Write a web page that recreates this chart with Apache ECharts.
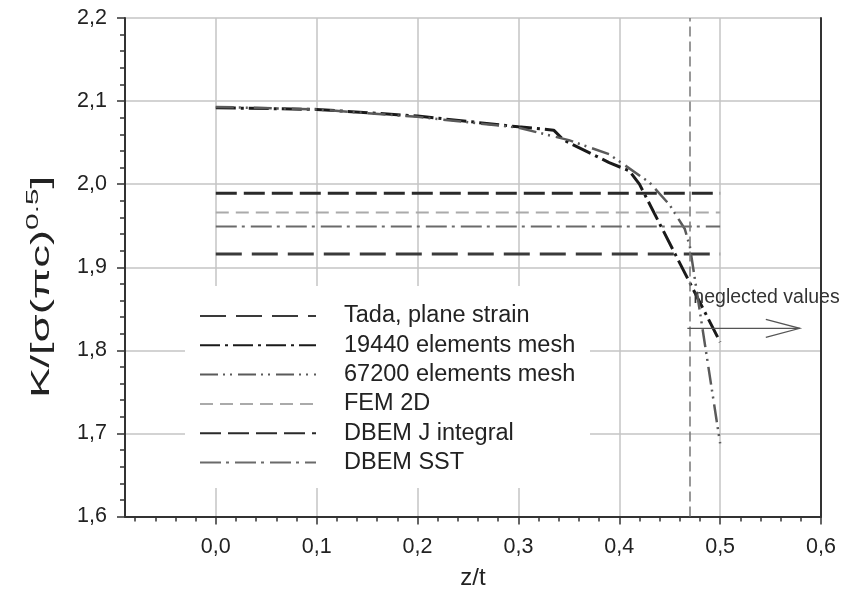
<!DOCTYPE html>
<html>
<head>
<meta charset="utf-8">
<script src="https://cdn.jsdelivr.net/npm/echarts@6/dist/echarts.min.js"></script>
<style>
  html, body { margin: 0; padding: 0; background: #fff; }
  #chart { width: 843px; height: 599px; }
</style>
</head>
<body>
<div id="chart"></div>
<script>
// tick labels
const xMajor = [0, 0.1, 0.2, 0.3, 0.4, 0.5, 0.6];
const yMajor = [1.6, 1.7, 1.8, 1.9, 2.0, 2.1, 2.2];

// 19440 elements mesh
const mesh19440Z = [0, 0.1, 0.2, 0.3, 0.335, 0.345, 0.39, 0.41, 0.42, 0.5];
const mesh19440K = [2.092, 2.090, 2.082, 2.069, 2.065, 2.053, 2.026, 2.016, 2.000, 1.810];
// 67200 elements mesh
const mesh67200Z = [0, 0.1, 0.2, 0.3, 0.35, 0.39, 0.43, 0.45, 0.465, 0.47, 0.5];
const mesh67200K = [2.093, 2.090, 2.081, 2.068, 2.053, 2.036, 2.002, 1.975, 1.946, 1.925, 1.688];

// constant reference values, drawn from z/t = 0 to 0.5
const levelZ = [0, 0.5];
const tadaK = 1.916;
const fem2dK = 1.966;
const dbemJK = 1.989;
const dbemSstK = 1.949;

// neglected values marker
const neglectZ = 0.4675;
const arrowK = 1.8265;
const arrowEndZ = 0.579;

const FONT = '"Liberation Sans", Arial, sans-serif';

// minor tick positions every 0.02 (skip majors)
const xMinor = [];
for (let i = -4; i <= 30; i++) {
    if (i % 5 !== 0) xMinor.push(+(i * 0.02).toFixed(2));
}

const pairs = (xs, ys) => xs.map((x, i) => [x, ys[i]]);
const level = (k) => levelZ.map(z => [z, k]);
const comma = (v) => v.toFixed(1).replace('.', ',');

const chart = echarts.init(document.getElementById('chart'));

const lineSeries = (name, data, color, width, type, extra) => Object.assign({
    name,
    type: 'line',
    xAxisIndex: 0,
    yAxisIndex: 0,
    data,
    symbol: 'none',
    showSymbol: false,
    animation: false,
    lineStyle: { color, width, type },
    itemStyle: { color },
    z: 3
}, extra || {});

chart.setOption({
    animation: false,
    backgroundColor: '#fff',
    textStyle: { fontFamily: FONT },
    grid: { left: 125, right: 22, top: 18, bottom: 82.5 },
    legend: {
        orient: 'vertical',
        left: 199,
        top: 304,
        padding: 0,
        itemWidth: 116,
        itemHeight: 14,
        itemGap: 5.3,
        selectedMode: false,
        itemStyle: { opacity: 0 },
        textStyle: { fontSize: 23.5, lineHeight: 23, color: '#222', fontFamily: FONT, padding: [0, 0, 0, 23] },
        data: ['Tada, plane strain', '19440 elements mesh', '67200 elements mesh', 'FEM 2D', 'DBEM J integral', 'DBEM SST'],
        z: 20
    },
    xAxis: [{
        type: 'value',
        min: -0.09,
        max: 0.6,
        position: 'bottom',
        name: 'z/t',
        nameLocation: 'middle',
        nameGap: 50,
        nameTextStyle: { fontSize: 24, color: '#222', fontFamily: FONT },
        axisLine: { show: true, onZero: false, lineStyle: { color: '#333', width: 2 } },
        axisTick: { show: true, customValues: xMajor, length: 8, lineStyle: { color: '#333', width: 1.5 } },
        axisLabel: { customValues: xMajor, formatter: comma, fontSize: 21.5, margin: 20, color: '#222', fontFamily: FONT },
        splitLine: { show: true, lineStyle: { color: '#c4c4c4', width: 1.5 } }
    }, {
        type: 'value',
        min: -0.09,
        max: 0.6,
        position: 'bottom',
        axisLine: { show: false, onZero: false },
        axisTick: { show: true, customValues: xMinor, length: 5, lineStyle: { color: '#333', width: 1.5 } },
        axisLabel: { show: false },
        splitLine: { show: false }
    }],
    yAxis: [{
        type: 'value',
        min: 1.6,
        max: 2.2,
        interval: 0.1,
        position: 'left',
        axisLine: { show: true, onZero: false, lineStyle: { color: '#333', width: 2 } },
        axisTick: { show: true, length: 8, lineStyle: { color: '#333', width: 1.5 } },
        minorTick: { show: true, splitNumber: 5, length: 5, lineStyle: { color: '#333', width: 1.5 } },
        axisLabel: { formatter: comma, fontSize: 21.5, margin: 18, color: '#222', fontFamily: FONT },
        splitLine: { show: true, lineStyle: { color: '#c4c4c4', width: 1.5 } }
    }, {
        type: 'value',
        min: 1.6,
        max: 2.2,
        position: 'right',
        axisLine: { show: true, onZero: false, lineStyle: { color: '#333', width: 2 } },
        axisTick: { show: false },
        axisLabel: { show: false },
        splitLine: { show: false }
    }],
    series: [
        lineSeries('Tada, plane strain', level(tadaK), '#3a3a3a', 3, [26, 10], {
            markLine: {
                silent: true,
                symbol: 'none',
                label: { show: false },
                lineStyle: { color: '#777', width: 1.5, type: [10, 5] },
                data: [{ xAxis: neglectZ }]
            }
        }),
        lineSeries('19440 elements mesh', pairs(mesh19440Z, mesh19440K), '#1a1a1a', 3, [20, 5, 3, 5]),
        lineSeries('67200 elements mesh', pairs(mesh67200Z, mesh67200K), '#5a5a5a', 2.5, [18, 5, 2, 5, 2, 6]),
        lineSeries('FEM 2D', level(fem2dK), '#aaaaaa', 2, [13, 7]),
        lineSeries('DBEM J integral', level(dbemJK), '#2a2a2a', 3, [21, 7]),
        lineSeries('DBEM SST', level(dbemSstK), '#6a6a6a', 2, [21, 5, 3, 6])
    ]
});

// annotation: arrow + text, placed through the chart's own scales
const p0 = chart.convertToPixel({ xAxisIndex: 0, yAxisIndex: 0 }, [neglectZ, arrowK]);
const p1 = chart.convertToPixel({ xAxisIndex: 0, yAxisIndex: 0 }, [arrowEndZ, arrowK]);

chart.setOption({
    graphic: [{
        type: 'rect',
        z: 10,
        shape: { x: 185, y: 286, width: 405, height: 202 },
        style: { fill: '#fff' }
    }, {
        // y axis title, stretched along its length like the original
        type: 'text',
        z: 12,
        x: 42,
        y: 287,
        rotation: Math.PI / 2,
        scaleX: 1.75,
        style: {
            text: 'K/[σ(πc){sup|0.5}]',
            font: '26px ' + FONT,
            fill: '#222',
            align: 'center',
            verticalAlign: 'middle',
            lineHeight: 34,
            rich: { sup: { fontSize: 17, lineHeight: 15, verticalAlign: 'top', fill: '#222', fontFamily: FONT } }
        }
    }, {
        type: 'polyline',
        z: 12,
        shape: { points: [p0, p1] },
        style: { stroke: '#555', lineWidth: 1.2, fill: null }
    }, {
        type: 'polyline',
        z: 12,
        shape: { points: [[p1[0] - 34, p1[1] - 9], p1, [p1[0] - 34, p1[1] + 9]] },
        style: { stroke: '#555', lineWidth: 1.2, fill: null }
    }, {
        type: 'text',
        z: 12,
        x: p0[0] + 6,
        y: p0[1] - 31,
        style: { text: 'neglected values', font: '19.5px ' + FONT, fill: '#333', verticalAlign: 'middle' }
    }]
});

window.addEventListener('resize', () => chart.resize());
</script>
</body>
</html>
